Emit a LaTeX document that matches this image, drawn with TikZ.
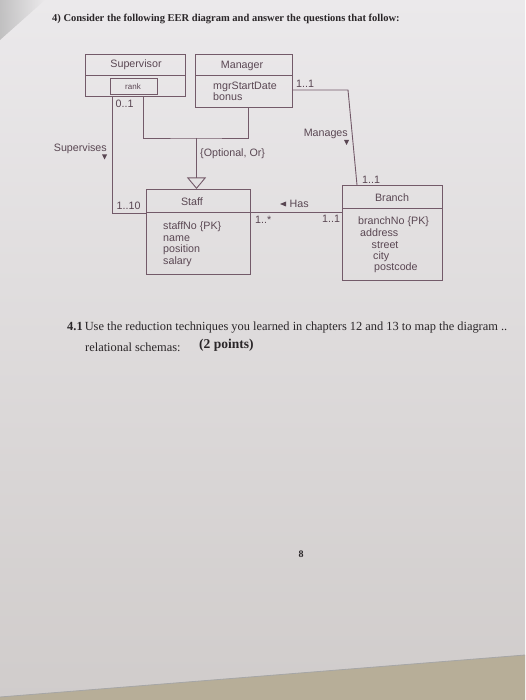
\documentclass[tikz,border=0pt]{standalone}
\usepackage{fontspec}
\setmainfont{Liberation Serif}
\newfontfamily\dsans{Liberation Sans}
\usetikzlibrary{arrows.meta}
\definecolor{papertop}{HTML}{EBE9EB}
\definecolor{paperbot}{HTML}{D0CCCB}
\definecolor{desk}{HTML}{B7AE98}
\definecolor{lc}{HTML}{735A69}
\definecolor{tc}{HTML}{5A4753}
\definecolor{ink}{HTML}{2A2628}
\begin{document}
\begin{tikzpicture}[x=1pt,y=-1pt,
  ent/.style={draw=lc, line width=0.9pt, anchor=north west, inner sep=0pt, outer sep=0pt},
  conn/.style={draw=lc, line width=0.9pt},
  dl/.style={font=\dsans\fontsize{10.7}{11.5}\selectfont, text=tc, inner sep=0pt},
  dls/.style={font=\dsans\fontsize{8}{9}\selectfont, text=tc, inner sep=0pt},
  tri/.style={fill=tc},
  serif/.style={text=ink, inner sep=0pt, anchor=base west}]
\useasboundingbox (0,0) rectangle (525,700);
\shade[top color=papertop, bottom color=paperbot] (0,0) rectangle (525,700);
\fill[desk] (0,697) -- (525,655) -- (525,700) -- (0,700) -- cycle;
\draw[gray!70, line width=0.8pt] (0,697) -- (525,655);
\shade[left color=gray!70, right color=papertop, opacity=0.6] (0,0) -- (45,0) -- (0,40) -- cycle;

% title
\node[serif, font=\fontsize{10.5}{12}\selectfont\bfseries] (title) at (52,21.5)
  {4)\ Consider the following EER diagram and answer the questions that follow:};

% entity boxes
\node[ent, minimum width=100pt, minimum height=42pt] (sup) at (85,54) {};
\node[ent, minimum width=47pt, minimum height=16pt] (rank) at (110,78) {};
\node[ent, minimum width=97pt, minimum height=53pt] (mgr) at (195,54) {};
\node[ent, minimum width=104pt, minimum height=85pt] (staff) at (146,189) {};
\node[ent, minimum width=100pt, minimum height=95pt] (branch) at (342,185) {};

% header separators
\draw[conn] (sup.west |- 0,75) -- (sup.east |- 0,75);
\draw[conn] (mgr.west |- 0,75) -- (mgr.east |- 0,75);
\draw[conn] (staff.west |- 0,212) -- (staff.east |- 0,212);
\draw[conn] (branch.west |- 0,208) -- (branch.east |- 0,208);

% box texts
\node[dl] (supname) at (136,64.5) {Supervisor};
\node[dls] (rankname) at (133,87) {rank};
\node[dl] (mgrname) at (242,65.5) {Manager};
\node[dl, anchor=base west] (mgra1) at (213,90) {mgrStartDate};
\node[dl, anchor=base west] (mgra2) at (213,100.5) {bonus};
\node[dl] (staffname) at (192,201.5) {Staff};
\node[dl, anchor=base west] (sa1) at (163,229.5) {staffNo \{PK\}};
\node[dl, anchor=base west] (sa2) at (163,241.2) {name};
\node[dl, anchor=base west] (sa3) at (163,252.6) {position};
\node[dl, anchor=base west] (sa4) at (163,264.5) {salary};
\node[dl] (branchname) at (392,197.7) {Branch};
\node[dl, anchor=base west] (ba1) at (358,225) {branchNo \{PK\}};
\node[dl, anchor=base west] (ba2) at (360,236.5) {address};
\node[dl, anchor=base west] (ba3) at (371.5,248) {street};
\node[dl, anchor=base west] (ba4) at (373,259.5) {city};
\node[dl, anchor=base west] (ba5) at (374,270.5) {postcode};

% connectors
\coordinate (gj) at (196.5,138);
\coordinate (mbend) at (348,90);
\draw[conn] (sup.south -| 112,0) |- (staff.west |- 0,213);
\draw[conn] (sup.south -| 143,0) |- (gj) -| (mgr.south -| 248,0);
\draw[conn, -{Triangle[open, length=11.5pt, width=19pt, line width=0.9pt]}] (gj) -- (staff.north -| gj);
\draw[conn] (mgr.east |- mbend) -- (mbend) -- (branch.north -| 357,0);
\draw[conn] (staff.east |- 0,212) -- (branch.west |- 0,212);

% connector labels
\node[dl, anchor=base west] (m01) at (115.5,108) {0..1};
\node[dl, anchor=base west] (m110) at (116.5,210) {1..10};
\node[dl, anchor=base east] (supv) at (107,151.5) {Supervises};
\fill[tri] (102,154.5) -- (107,154.5) -- (104.5,159.5) -- cycle;
\node[dl, anchor=base west] (opt) at (200,156.5) {\{Optional, Or\}};
\node[dl, anchor=base west] (m11a) at (296,88) {1..1};
\node[dl, anchor=base east] (mng) at (348,136.5) {Manages};
\fill[tri] (344,140) -- (349,140) -- (346.5,145) -- cycle;
\node[dl, anchor=base west] (m11b) at (362,184) {1..1};
\node[dl, anchor=base west] (has) at (289.5,208) {Has};
\fill[tri] (286,201.5) -- (286,206.5) -- (280,204) -- cycle;
\node[dl, anchor=base west] (m1s) at (255,224) {1..*};
\node[dl, anchor=base west] (m11c) at (322,223) {1..1};

% question
\node[serif, font=\fontsize{12.4}{14}\selectfont] (q1) at (67,330)
  {\textbf{4.1}\,Use the reduction techniques you learned in chapters 12 and 13 to map the diagram ..};
\node[serif, font=\fontsize{12.4}{14}\selectfont] (q2) at (85,351) {relational schemas:};
\node[serif, font=\fontsize{13.5}{15}\selectfont\bfseries] (q3) at (199,348.5) {(2 points)};

% page number
\node[serif, anchor=center, font=\fontsize{10}{12}\selectfont\bfseries] (pg) at (301,554) {8};
\end{tikzpicture}
\end{document}
